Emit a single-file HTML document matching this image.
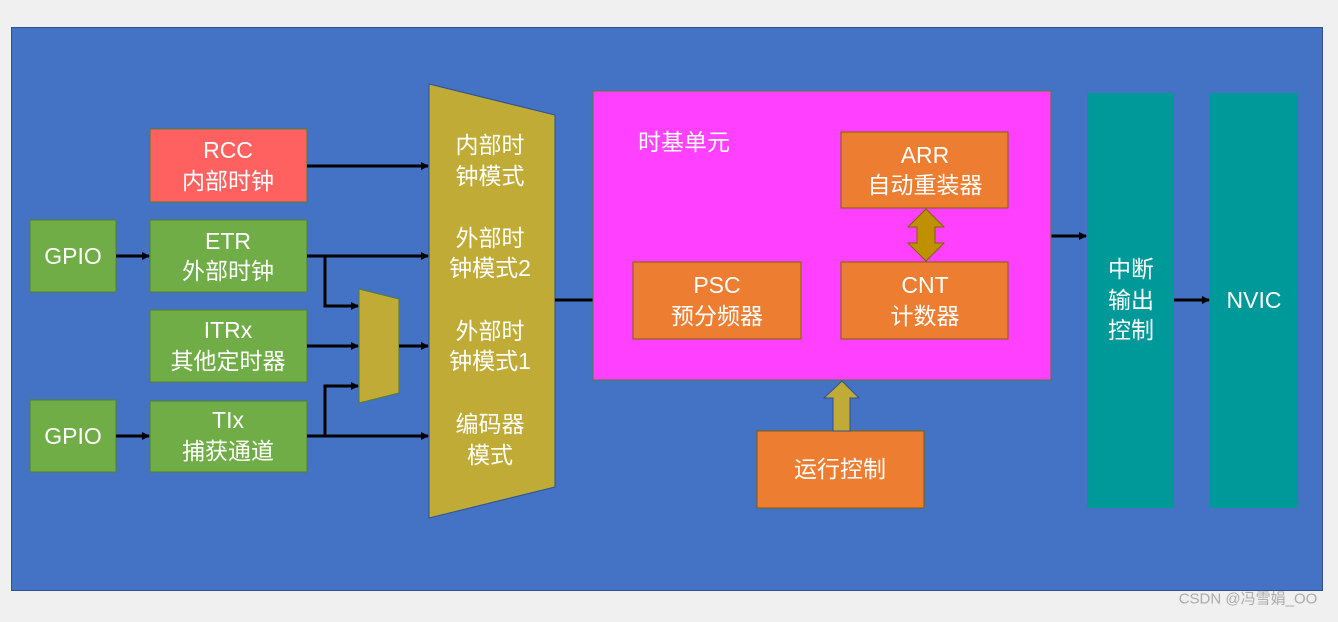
<!DOCTYPE html>
<html><head><meta charset="utf-8"><style>
body{margin:0;background:#f0f0f0;width:1338px;height:617px;overflow:hidden}
svg text{font-family:"Liberation Sans","Noto Sans CJK SC",sans-serif;fill:#fff;font-size:23px;text-anchor:middle;dominant-baseline:central}
</style></head><body>
<svg width="1338" height="617" viewBox="0 0 1338 617">
<defs><marker id="a" markerWidth="8" markerHeight="8" refX="7" refY="4" orient="auto" markerUnits="userSpaceOnUse"><path d="M0,0 L8,4 L0,8z" fill="#000"/></marker></defs>
<rect x="11.5" y="27.5" width="1311" height="563" fill="#4472c4" stroke="#2f528f"/>
<!-- left boxes -->
<rect x="30" y="220" width="86" height="72" fill="#70ad47" stroke="#507e32"/>
<rect x="30" y="400" width="86" height="72" fill="#70ad47" stroke="#507e32"/>
<rect x="150" y="129" width="157" height="73" fill="#ff6161" stroke="#507e32"/>
<rect x="150" y="220" width="157" height="72" fill="#70ad47" stroke="#507e32"/>
<rect x="150" y="310" width="157" height="72" fill="#70ad47" stroke="#507e32"/>
<rect x="150" y="401" width="157" height="71" fill="#70ad47" stroke="#507e32"/>
<text x="73" y="256">GPIO</text><text x="73" y="436">GPIO</text>
<text x="228" y="150">RCC</text><text x="228" y="181">内部时钟</text>
<text x="228" y="241">ETR</text><text x="228" y="271">外部时钟</text>
<text x="228" y="330">ITRx</text><text x="228" y="361">其他定时器</text>
<text x="228" y="420">TIx</text><text x="228" y="451">捕获通道</text>
<!-- muxes -->
<polygon points="359,289 399,299 399,393 359,403" fill="#bfab35" stroke="#507e32"/>
<polygon points="429,84 555,115 555,487 429,518" fill="#bfab35" stroke="#2f528f"/>
<text x="490" y="145">内部时</text><text x="490" y="176">钟模式</text>
<text x="490" y="238">外部时</text><text x="490" y="268">钟模式2</text>
<text x="490" y="331">外部时</text><text x="490" y="361">钟模式1</text>
<text x="490" y="424">编码器</text><text x="490" y="455">模式</text>
<!-- arrows -->
<g stroke="#000" stroke-width="3" fill="none">
<line x1="116" y1="256" x2="149" y2="256" marker-end="url(#a)"/>
<line x1="116" y1="436" x2="149" y2="436" marker-end="url(#a)"/>
<line x1="307" y1="166" x2="428" y2="166" marker-end="url(#a)"/>
<line x1="307" y1="256" x2="428" y2="256" marker-end="url(#a)"/>
<polyline points="325,256 325,306 358,306" marker-end="url(#a)"/>
<line x1="307" y1="346" x2="358" y2="346" marker-end="url(#a)"/>
<line x1="399" y1="346" x2="428" y2="346" marker-end="url(#a)"/>
<line x1="307" y1="436" x2="428" y2="436" marker-end="url(#a)"/>
<polyline points="325,436 325,386 358,386" marker-end="url(#a)"/>
<line x1="555" y1="300" x2="632" y2="300" marker-end="url(#a)"/>
<line x1="801" y1="300" x2="840" y2="300" marker-end="url(#a)"/>
<line x1="935" y1="236" x2="1086" y2="236" marker-end="url(#a)"/>
<line x1="1174" y1="300" x2="1209" y2="300" marker-end="url(#a)"/>
</g>
<!-- time base -->
<rect x="593" y="91" width="458" height="289" fill="#ff40ff" stroke="#507e32"/>
<text x="684" y="142">时基单元</text>
<rect x="841" y="132" width="167" height="76" fill="#ed7d31" stroke="#7f6000"/>
<rect x="841" y="262" width="167" height="77" fill="#ed7d31" stroke="#7f6000"/>
<rect x="633" y="262" width="168" height="77" fill="#ed7d31" stroke="#7f6000"/>
<rect x="757" y="431" width="167" height="77" fill="#ed7d31" stroke="#7f6000"/>
<text x="925" y="155">ARR</text><text x="925" y="185">自动重装器</text>
<text x="925" y="285">CNT</text><text x="925" y="316">计数器</text>
<text x="717" y="285">PSC</text><text x="717" y="316">预分频器</text>
<text x="840" y="469">运行控制</text>
<polygon points="926,209 944,227 935,227 935,243 944,243 926,261 908,243 917,243 917,227 908,227" fill="#bf9000" stroke="#7f6000"/>
<polygon points="842,381 859,398 850,398 850,431 833,431 833,398 824,398" fill="#bfab35" stroke="#2f528f"/>
<!-- teal -->
<rect x="1087" y="93" width="87" height="415" fill="#009999"/>
<rect x="1210" y="93" width="88" height="415" fill="#009999"/>
<text x="1131" y="269">中断</text><text x="1131" y="300">输出</text><text x="1131" y="330">控制</text>
<text x="1254" y="300">NVIC</text>
<text x="1248" y="599" style="fill:#aaa;font-size:15px">CSDN @冯雪娟_OO</text>
</svg>
</body></html>
